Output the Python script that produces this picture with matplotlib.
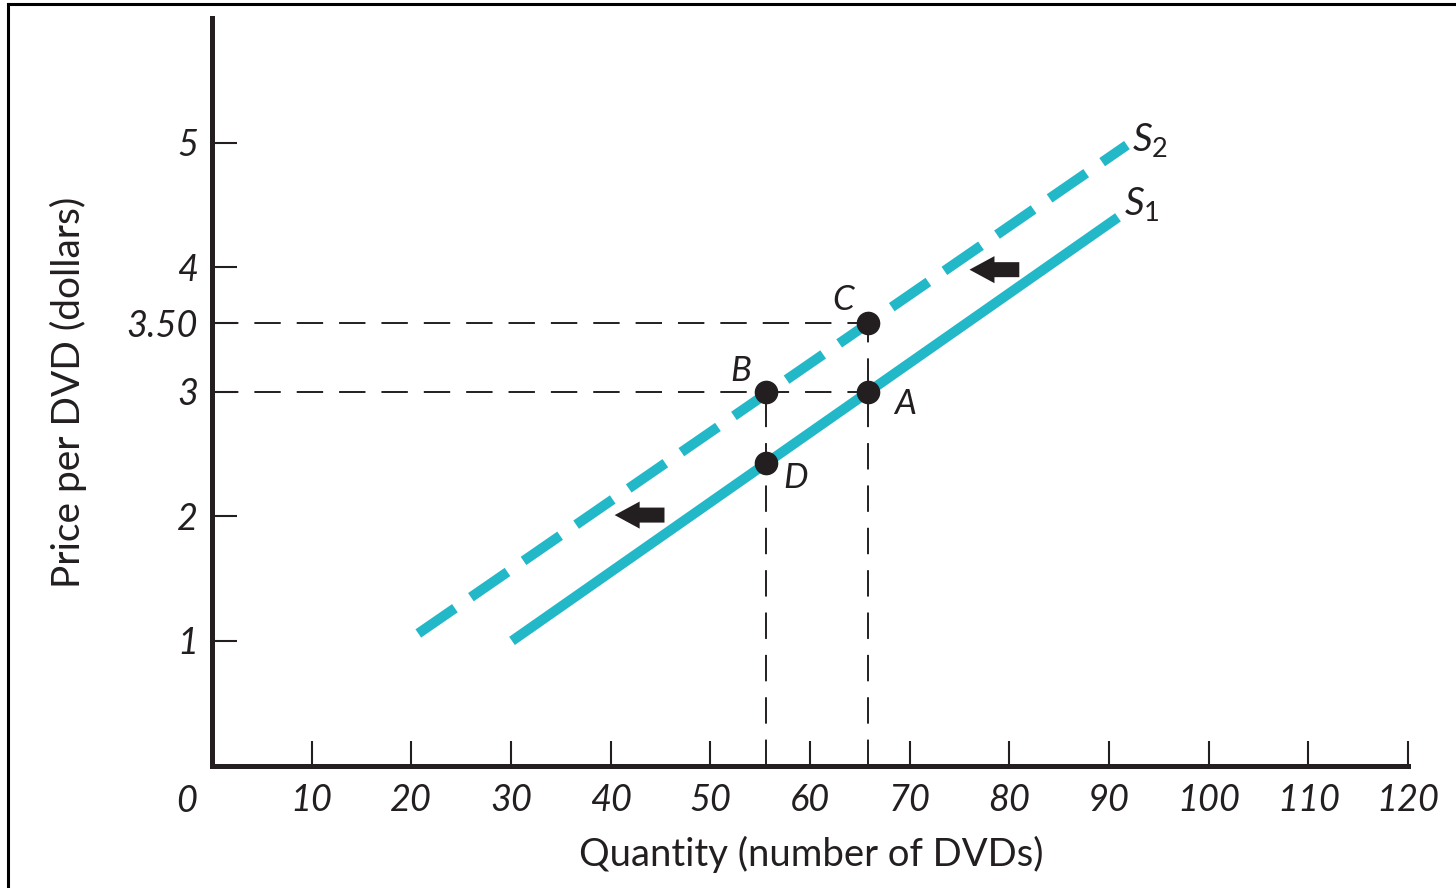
import matplotlib
matplotlib.use("Agg")
import matplotlib.pyplot as plt
from matplotlib.lines import Line2D

# ---- data ----
qty_s1 = [30.1, 90.9]
price_s1 = [1.0, 4.40]
qty_s2 = [20.7, 91.8]
price_s2 = [1.06, 4.98]

point_names = ["A", "B", "C", "D"]
point_qty = [65.8, 55.6, 65.8, 55.6]
point_price = [3.0, 3.0, 3.55, 2.43]

x_ticks = [10, 20, 30, 40, 50, 60, 70, 80, 90, 100, 110, 120]
y_ticks = [1, 2, 3, 3.55, 4, 5]
y_tick_labels = ["1", "2", "3", "3.50", "4", "5"]

arrow_tails = [(81.0, 3.98), (45.4, 2.01)]
arrow_tips = [(76.0, 3.98), (40.4, 2.01)]

# ---- style ----
INK = "#231f20"
TEAL = "#22b8c8"
FONT = "Lato"

plt.rcParams["font.family"] = [FONT, "DejaVu Sans"]
plt.rcParams["lines.scale_dashes"] = False
plt.rcParams["mathtext.fontset"] = "custom"
plt.rcParams["mathtext.it"] = FONT + ":italic"
plt.rcParams["mathtext.rm"] = FONT

W, H = 1456, 888
fig = plt.figure(figsize=(W / 100, H / 100), dpi=100)
ax = fig.add_axes([212 / W, (H - 765.5) / H, 1196 / W, 747.5 / H])
ax.set_xlim(0, 120)
ax.set_ylim(0, 6)

for s in ["top", "right"]:
    ax.spines[s].set_visible(False)
for s in ["left", "bottom"]:
    ax.spines[s].set_linewidth(3.6)
    ax.spines[s].set_color(INK)
    ax.spines[s].set_capstyle("projecting")

ax.set_xticks(x_ticks)
ax.set_xticklabels([str(v) for v in x_ticks])
ax.set_yticks(y_ticks)
ax.set_yticklabels(y_tick_labels)
ax.tick_params(direction="in", length=18, width=1.5, color=INK,
               labelsize=26, labelcolor=INK)
ax.tick_params(axis="x", pad=13)
ax.tick_params(axis="y", pad=10)
for lab in ax.get_xticklabels() + ax.get_yticklabels():
    lab.set_fontstyle("italic")
ax.annotate("0", xy=(0, 0), xytext=(-18, -14), textcoords="offset points",
            ha="center", va="top", fontsize=26, fontstyle="italic", color=INK)

# guide lines to the points
a_q, b_q, c_q = point_qty[0], point_qty[1], point_qty[2]
a_p, c_p = point_price[0], point_price[2]
guide = dict(color=INK, lw=1.4, dashes=(19, 11.5), zorder=1)
ax.plot([0, c_q], [c_p, c_p], **guide)
ax.plot([0, a_q], [a_p, a_p], **guide)
ax.plot([c_q, c_q], [0, c_p], **guide)
ax.plot([b_q, b_q], [0, point_price[1]], **guide)

# supply curves
ax.plot(qty_s1, price_s1, color=TEAL, lw=7.2, solid_capstyle="butt", zorder=2)
ax.plot(qty_s2, price_s2, color=TEAL, lw=7.2, dashes=(32, 14),
        dash_capstyle="butt", zorder=2)

ax.annotate("$S_1$", xy=(qty_s1[1], price_s1[1]), xytext=(4, 2),
            textcoords="offset points", fontsize=28, color=INK,
            ha="left", va="baseline")
ax.annotate("$S_2$", xy=(qty_s2[1], price_s2[1]), xytext=(4, -4),
            textcoords="offset points", fontsize=28, color=INK,
            ha="left", va="baseline")

# points
ax.scatter(point_qty, point_price, s=16 ** 2, color=INK, zorder=3)
offsets = {"A": (27, -9), "B": (-18, 15), "C": (-18, 17), "D": (21, -11)}
for name, q, p in zip(point_names, point_qty, point_price):
    ax.annotate(name, xy=(q, p), xytext=offsets[name], textcoords="offset points",
                ha="center", va="center", fontsize=25, fontstyle="italic",
                color=INK)

# shift arrows
for tail, tip in zip(arrow_tails, arrow_tips):
    ax.annotate("", xy=tip, xytext=tail,
                arrowprops=dict(arrowstyle="simple,head_length=1.8,head_width=1.95,tail_width=1.08",
                                mutation_scale=10, color=INK, shrinkA=0, shrinkB=0,
                                lw=0))

# axis titles
fig.text(68 / W, 1 - 392 / H, "Price per DVD (dollars)", rotation=90,
         ha="center", va="center", fontsize=28, color=INK)
fig.text(811 / W, 1 - 854 / H, "Quantity (number of DVDs)",
         ha="center", va="center", fontsize=27.5, color=INK)

# frame (left and top edges of the original figure box)
fig.add_artist(Line2D([8 / W, 8 / W], [0, 1 - 4 / H], transform=fig.transFigure,
                      color="black", lw=2.2))
fig.add_artist(Line2D([8 / W, 1], [1 - 4 / H, 1 - 4 / H], transform=fig.transFigure,
                      color="black", lw=2.2))

fig.savefig("out.png", dpi=100)
